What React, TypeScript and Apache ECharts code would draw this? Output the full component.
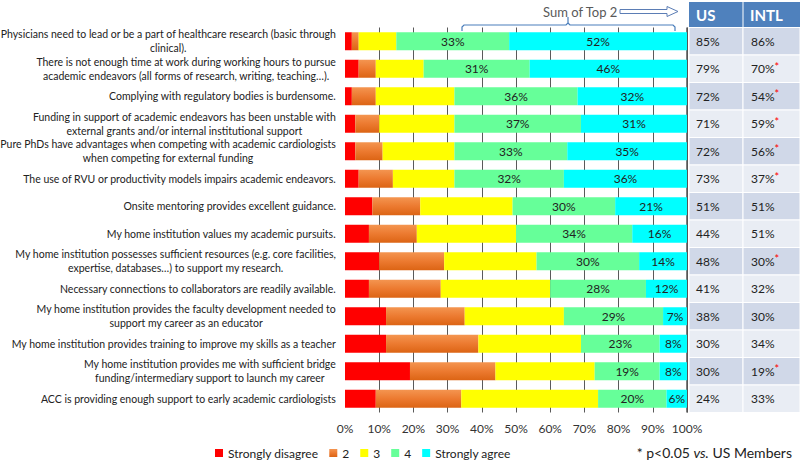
import React, { useEffect, useRef } from "react";
import * as echarts from "echarts";

const categories = [
  "Physicians need to lead or be a part of healthcare research (basic through\nclinical).",
  "There is not enough time at work during working hours to pursue\nacademic endeavors (all forms of research, writing, teaching…).",
  "Complying with regulatory bodies is burdensome.",
  "Funding in support of academic endeavors has been unstable with\nexternal grants and/or internal institutional support",
  "Pure PhDs have advantages when competing with academic cardiologists\nwhen competing for external funding",
  "The use of RVU or productivity models impairs academic endeavors.",
  "Onsite mentoring provides excellent guidance.",
  "My home institution values my academic pursuits.",
  "My home institution possesses sufficient resources (e.g. core facilities,\nexpertise, databases…) to support my research.",
  "Necessary connections to collaborators are readily available.",
  "My home institution provides the faculty development needed to\nsupport my career as an educator",
  "My home institution provides training to improve my skills as a teacher",
  "My home institution provides me with sufficient bridge\nfunding/intermediary support to launch my career",
  "ACC is providing enough support to early academic cardiologists",
];

const stronglyDisagree = [2, 4, 2, 3, 3, 4, 8, 7, 10, 7, 12, 12, 19, 9];
const disagree2 = [2, 5, 7, 7, 8, 10, 14, 14, 19, 21, 23, 27, 25, 25];
const neutral3 = [11, 14, 23, 22, 21, 18, 27, 29, 27, 32, 29, 30, 29, 40];
const agree4 = [33, 31, 36, 37, 33, 32, 30, 34, 30, 28, 29, 23, 19, 20];
const stronglyAgree = [52, 46, 32, 31, 35, 36, 21, 16, 14, 12, 7, 8, 8, 6];

const usTop2 = [85, 79, 72, 71, 72, 73, 51, 44, 48, 41, 38, 30, 30, 24];
const intlTop2 = [86, 70, 54, 59, 56, 37, 51, 51, 30, 32, 30, 34, 19, 33];
const intlSignificant = [false, true, true, true, true, true, false, false, true, false, false, false, true, false];

const legendNames = ["Strongly disagree", "2", "3", "4", "Strongly agree"];
const xTickLabels = ["0%", "10%", "20%", "30%", "40%", "50%", "60%", "70%", "80%", "90%", "100%"];
const tableHeaders = ["US", "INTL"];

export default function App() {
  const ref = useRef<HTMLDivElement>(null);

  useEffect(() => {
    const chart = echarts.init(ref.current!, null, { renderer: "svg" });
    const font = "Lato, 'Liberation Sans', sans-serif";
    const orange = new echarts.graphic.LinearGradient(0, 0, 0, 1, [
      { offset: 0, color: "#F49550" },
      { offset: 0.5, color: "#EC7A30" },
      { offset: 1, color: "#DC6414" },
    ]);
    const colors: any[] = ["#FF0000", orange, "#FFFF00", "#66FF99", "#00FFFF"];
    const seriesData = [stronglyDisagree, disagree2, neutral3, agree4, stronglyAgree];

    const series = seriesData.map((d, i) => ({
      name: legendNames[i],
      type: "bar",
      stack: "total",
      data: d,
      barWidth: 18,
      itemStyle: { color: colors[i] },
      label: {
        show: i >= 3,
        position: "inside",
        formatter: "{c}%",
        color: "#222",
        fontSize: 12,
        fontFamily: font,
      },
      emphasis: { disabled: true },
    }));

    const gridColors = xTickLabels.map((_, i) => (i === 0 ? "rgba(0,0,0,0)" : "#5a5a5a"));

    chart.setOption({
      animation: false,
      backgroundColor: "#ffffff",
      grid: {
        left: 345,
        right: 113,
        top: 27.5,
        bottom: 50.5,
        containLabel: false,
        outerBoundsMode: "none",
      },
      legend: {
        data: legendNames,
        left: 210,
        top: 442,
        itemWidth: 8,
        itemHeight: 8,
        itemGap: 11,
        icon: "rect",
        textStyle: { fontFamily: font, fontSize: 12, color: "#222" },
      },
      xAxis: {
        type: "value",
        min: 0,
        max: 100,
        interval: 10,
        axisLine: { show: false },
        axisTick: { show: false },
        axisLabel: {
          margin: 10,
          formatter: (v: number) => xTickLabels[Math.round(v / 10)],
          fontFamily: font,
          fontSize: 12,
          color: "#333",
        },
        splitLine: { show: true, lineStyle: { color: gridColors, width: 1 } },
      },
      yAxis: {
        type: "category",
        data: categories,
        inverse: true,
        axisLine: { show: false },
        axisTick: { show: false },
        axisLabel: {
          margin: 9,
          formatter: (v: string) =>
            v
              .split("\n")
              .map((l) => "{c|" + l + "}")
              .join("\n"),
          rich: {
            c: {
              align: "center",
              fontFamily: font,
              fontSize: 10.5,
              lineHeight: 14,
              color: "#222",
            },
          },
        },
      },
      series,
    });

    // Table built from data, positioned through the axes
    const y0 = chart.convertToPixel({ yAxisIndex: 0 }, 0) as number;
    const y1 = chart.convertToPixel({ yAxisIndex: 0 }, 1) as number;
    const rowH = y1 - y0;
    const xRight = chart.convertToPixel({ xAxisIndex: 0 }, 100) as number;
    const tx0 = xRight + 2;
    const tDiv = tx0 + 54;
    const tx1 = 800;
    const headerTop = 2;
    const headerBottom = y0 - rowH / 2;

    const graphics: any[] = [];
    graphics.push({
      type: "rect",
      shape: { x: tx0, y: headerTop, width: tx1 - tx0, height: headerBottom - headerTop },
      style: { fill: "#4F81BD" },
    });
    graphics.push({
      type: "line",
      shape: { x1: tDiv, y1: headerTop, x2: tDiv, y2: headerBottom },
      style: { stroke: "#ffffff", lineWidth: 1 },
    });
    tableHeaders.forEach((h, j) => {
      graphics.push({
        type: "text",
        x: (j === 0 ? tx0 : tDiv) + 7,
        y: (headerTop + headerBottom) / 2,
        style: {
          text: h,
          fill: "#ffffff",
          font: "bold 15px " + font,
          textVerticalAlign: "middle",
          textAlign: "left",
        },
      });
    });
    usTop2.forEach((u, i) => {
      const cy = chart.convertToPixel({ yAxisIndex: 0 }, i) as number;
      const top = cy - rowH / 2;
      const fill = i % 2 === 0 ? "#D0D8E8" : "#E9EDF4";
      graphics.push({
        type: "rect",
        shape: { x: tx0, y: top, width: tDiv - tx0, height: rowH },
        style: { fill, stroke: "#ffffff", lineWidth: 1 },
      });
      graphics.push({
        type: "rect",
        shape: { x: tDiv, y: top, width: tx1 - tDiv, height: rowH },
        style: { fill, stroke: "#ffffff", lineWidth: 1 },
      });
      graphics.push({
        type: "text",
        x: tx0 + 7,
        y: cy,
        style: {
          text: u + "%",
          fill: "#222",
          font: "12px " + font,
          textVerticalAlign: "middle",
        },
      });
      graphics.push({
        type: "text",
        x: tDiv + 8,
        y: cy,
        style: {
          text: "{v|" + intlTop2[i] + "%}" + (intlSignificant[i] ? "{s|*}" : ""),
          textVerticalAlign: "middle",
          rich: {
            v: { fill: "#222", fontSize: 12, fontFamily: font },
            s: { fill: "#FF0000", fontSize: 11, fontFamily: font, padding: [0, 0, 5, 0] },
          },
        },
      });
    });

    // Right border of plot
    graphics.push({
      type: "line",
      shape: { x1: xRight, y1: headerBottom, x2: xRight, y2: headerBottom + rowH * usTop2.length },
      style: { stroke: "#555", lineWidth: 1.5 },
    });

    // Sum of Top 2 annotation
    graphics.push({
      type: "text",
      x: 543,
      y: 12,
      style: {
        text: "Sum of Top 2",
        fill: "#595959",
        font: "13px " + font,
        textVerticalAlign: "middle",
      },
    });
    graphics.push({
      type: "polygon",
      shape: {
        points: [
          [620, 9.5],
          [667, 9.5],
          [667, 6.5],
          [678, 11.5],
          [667, 16.5],
          [667, 13.5],
          [620, 13.5],
        ],
      },
      style: { fill: "#ffffff", stroke: "#5B7DB5", lineWidth: 1 },
    });
    graphics.push({
      type: "polyline",
      shape: { points: [[462, 31], [462, 27], [464, 25], [566, 25], [568, 23], [568, 17]] },
      style: { stroke: "#4A7EBB", lineWidth: 1.2, fill: null },
    });
    graphics.push({
      type: "polyline",
      shape: { points: [[568, 23], [570, 25], [673, 25], [675, 27], [675, 31]] },
      style: { stroke: "#4A7EBB", lineWidth: 1.2, fill: null },
    });

    // Significance note
    graphics.push({
      type: "text",
      x: 792,
      y: 452,
      style: {
        text: "{a|* p<0.05 }{i|vs.}{a| US Members}",
        textAlign: "right",
        textVerticalAlign: "middle",
        rich: {
          a: { fill: "#222", fontSize: 14, fontFamily: font },
          i: { fill: "#222", fontSize: 14, fontFamily: font, fontStyle: "italic" },
        },
      },
    });

    chart.setOption({ graphic: graphics });

    return () => {
      chart.dispose();
    };
  }, []);

  return (
    <div
      ref={ref}
      style={{ position: "fixed", left: 0, top: 0, width: 800, height: 463, background: "#fff" }}
    />
  );
}
